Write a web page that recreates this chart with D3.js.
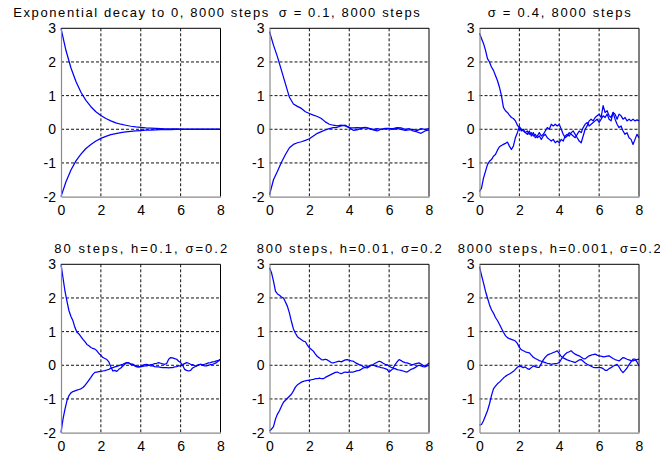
<!DOCTYPE html>
<html>
<head>
<meta charset="utf-8">
<script src="https://cdn.jsdelivr.net/npm/d3@7/dist/d3.min.js"></script>
<style>
  html, body { margin: 0; padding: 0; background: #fff; }
  svg { display: block; }
  text { font-family: "Liberation Sans", Arial, sans-serif; fill: #000; }
</style>
</head>
<body>
<svg id="chart" width="660" height="455"></svg>
<script>
// ---------- data ----------
const titles = [
  "Exponential decay to 0, 8000 steps",
  "\u03c3 = 0.1, 8000 steps",
  "\u03c3 = 0.4, 8000 steps",
  "80 steps, h=0.1, \u03c3=0.2",
  "800 steps, h=0.01, \u03c3=0.2",
  "8000 steps, h=0.001, \u03c3=0.2"
];
const xTicks = [0, 2, 4, 6, 8];
const yTicks = [-2, -1, 0, 1, 2, 3];
const xGrid = [2, 4, 6];
const yGrid = [-1, 0, 1, 2];

// sample spacing in t for each panel's value lists
const tSteps = [0.25, 0.2, 0.1, 0.1, 0.1, 0.1];

const upper1 = [3.00,2.34,1.82,1.42,1.10,0.86,0.67,0.52,0.41,0.32,0.25,0.19,0.15,0.12,0.09,0.07,0.055,0.04,0.033,0.025,0.02,0.015,0.012,0.01,0.007,0.006,0.005,0.004,0.003,0.002,0.002,0.001,0.001];
const lower1 = [-2.00,-1.56,-1.21,-0.94,-0.74,-0.57,-0.45,-0.35,-0.27,-0.21,-0.16,-0.13,-0.10,-0.08,-0.06,-0.05,-0.037,-0.028,-0.022,-0.017,-0.013,-0.01,-0.008,-0.006,-0.005,-0.004,-0.003,-0.002,-0.002,-0.001,-0.001,-0.001,0];

const upper2 = [2.9,2.5,2.15,1.75,1.35,0.95,0.75,0.68,0.62,0.52,0.47,0.42,0.38,0.32,0.22,0.15,0.12,0.10,0.12,0.10,0.05,0.04,0.05,0.04,0.06,0.03,0.0,0.02,0.0,0.03,0.02,0.02,0.05,0.04,0.0,0.02,-0.05,-0.08,-0.12,-0.05,-0.02];
const lower2 = [-1.95,-1.5,-1.25,-0.98,-0.75,-0.55,-0.45,-0.4,-0.37,-0.33,-0.28,-0.2,-0.12,-0.07,-0.02,0.02,0.05,0.06,0.1,0.12,0.05,-0.03,-0.02,0.03,0.05,0.02,-0.02,-0.05,0.0,0.02,0.03,0.0,0.03,0.0,-0.03,-0.02,0.0,-0.04,0.02,0.0,0.02];

const upper3 = [2.85,2.7,2.55,2.35,2.1,2.0,1.85,1.75,1.6,1.45,1.25,1.0,0.65,0.55,0.5,0.42,0.35,0.32,0.25,0.12,0.05,-0.05,0.0,-0.1,-0.05,-0.15,-0.1,-0.2,-0.15,-0.25,-0.2,-0.3,-0.2,-0.15,-0.25,-0.3,-0.35,-0.3,-0.4,-0.35,-0.4,-0.3,-0.35,-0.2,-0.15,-0.2,-0.1,-0.05,-0.15,-0.25,-0.35,-0.4,-0.2,0.0,0.1,0.25,0.3,0.25,0.35,0.4,0.45,0.35,0.7,0.5,0.55,0.4,0.35,0.5,0.45,0.3,0.45,0.4,0.3,0.35,0.25,0.3,0.25,0.3,0.25,0.28,0.25];
const lower3 = [-1.85,-1.75,-1.45,-1.25,-1.05,-0.95,-0.9,-0.8,-0.75,-0.62,-0.52,-0.48,-0.45,-0.42,-0.38,-0.5,-0.6,-0.5,-0.25,-0.1,0.08,0.0,-0.05,-0.1,-0.15,-0.05,-0.2,-0.1,-0.25,-0.2,-0.1,-0.2,-0.15,-0.05,0.05,0.0,0.15,0.1,0.15,0.1,0.15,0.0,-0.15,-0.25,-0.2,-0.1,-0.15,-0.2,-0.25,-0.15,-0.05,-0.1,0.05,0.15,0.2,0.1,0.15,0.2,0.25,0.3,0.2,0.3,0.4,0.35,0.45,0.3,0.25,0.5,0.3,0.15,0.05,0.1,-0.05,-0.15,-0.1,-0.25,-0.3,-0.45,-0.3,-0.15,-0.25];

const upper4 = [3.0,2.6,2.2,1.9,1.62,1.45,1.32,1.12,0.98,0.93,0.85,0.77,0.7,0.62,0.58,0.53,0.5,0.48,0.43,0.35,0.3,0.23,0.2,0.17,0.1,-0.05,-0.17,-0.15,-0.18,-0.12,-0.08,-0.02,0.03,0.08,0.07,0.02,0.03,-0.02,-0.05,-0.05,-0.04,-0.03,-0.02,-0.02,0.0,0.02,0.03,0.05,0.06,0.08,0.06,0.04,0.03,0.05,0.18,0.23,0.22,0.2,0.18,0.12,0.08,0.0,-0.12,-0.15,-0.17,-0.15,-0.08,-0.05,-0.02,0.02,0.03,0.0,-0.02,-0.02,0.0,0.02,0.03,0.05,0.08,0.13,0.18];
const lower4 = [-2.0,-1.6,-1.3,-1.05,-0.9,-0.82,-0.78,-0.76,-0.74,-0.72,-0.7,-0.66,-0.6,-0.52,-0.44,-0.36,-0.27,-0.21,-0.2,-0.19,-0.18,-0.17,-0.16,-0.14,-0.12,-0.09,-0.07,-0.05,-0.03,-0.01,0.01,0.03,0.06,0.08,0.07,0.04,0.03,0.0,-0.03,-0.05,-0.03,0.0,0.02,0.03,0.0,-0.02,-0.02,-0.04,-0.05,-0.05,-0.06,-0.07,-0.07,-0.07,-0.08,-0.07,-0.07,-0.05,-0.04,-0.02,-0.02,0.02,0.05,0.08,0.06,0.03,0.02,-0.01,-0.02,0.0,0.03,0.02,0.03,0.05,0.07,0.08,0.1,0.11,0.13,0.15,0.18];

const upper5 = [2.9,2.75,2.5,2.2,2.12,2.08,2.03,2.0,1.88,1.75,1.55,1.3,1.08,0.95,0.85,0.8,0.76,0.72,0.7,0.6,0.52,0.47,0.42,0.33,0.26,0.22,0.17,0.16,0.18,0.16,0.12,0.08,0.07,0.09,0.11,0.12,0.1,0.13,0.16,0.17,0.15,0.13,0.12,0.08,0.05,0.02,0.0,-0.04,-0.07,-0.08,-0.04,0.0,0.02,0.06,0.09,0.12,0.1,0.06,0.03,0.02,-0.03,-0.06,-0.08,0.02,0.1,0.17,0.14,0.1,0.08,0.07,0.05,0.03,0.02,0.04,0.06,0.07,0.04,0.0,-0.03,0.02,0.07];
const lower5 = [-1.95,-1.9,-1.82,-1.6,-1.45,-1.35,-1.22,-1.1,-1.04,-0.98,-0.92,-0.86,-0.76,-0.65,-0.58,-0.54,-0.5,-0.48,-0.46,-0.45,-0.45,-0.43,-0.42,-0.4,-0.4,-0.38,-0.4,-0.4,-0.36,-0.33,-0.3,-0.27,-0.24,-0.21,-0.2,-0.23,-0.25,-0.22,-0.2,-0.21,-0.2,-0.2,-0.2,-0.18,-0.16,-0.15,-0.12,-0.08,-0.06,-0.04,-0.02,0.0,0.0,-0.02,-0.04,-0.05,-0.07,-0.08,-0.1,-0.12,-0.2,-0.15,-0.1,-0.1,-0.13,-0.14,-0.15,-0.17,-0.19,-0.2,-0.16,-0.12,-0.1,-0.07,-0.03,0.0,-0.02,-0.04,-0.05,-0.02,0.0];

const upper6 = [2.93,2.68,2.45,2.2,2.0,1.8,1.65,1.55,1.42,1.33,1.22,1.1,0.98,0.88,0.82,0.79,0.77,0.75,0.72,0.65,0.53,0.46,0.43,0.4,0.38,0.37,0.3,0.24,0.2,0.17,0.14,0.12,0.1,0.08,0.06,0.05,0.03,0.04,0.05,0.06,0.08,0.18,0.26,0.33,0.38,0.4,0.43,0.37,0.33,0.3,0.28,0.24,0.2,0.19,0.24,0.28,0.3,0.32,0.33,0.3,0.28,0.27,0.25,0.26,0.27,0.28,0.24,0.2,0.17,0.15,0.13,0.18,0.23,0.21,0.18,0.16,0.14,0.13,0.15,0.17,0.18];
const lower6 = [-1.78,-1.76,-1.65,-1.5,-1.35,-1.15,-0.9,-0.7,-0.62,-0.55,-0.5,-0.44,-0.38,-0.33,-0.29,-0.26,-0.22,-0.18,-0.12,-0.06,-0.02,-0.04,-0.07,-0.05,-0.1,-0.12,-0.07,-0.02,-0.04,-0.06,-0.06,0.05,0.16,0.24,0.3,0.33,0.35,0.38,0.4,0.43,0.35,0.26,0.22,0.19,0.16,0.14,0.12,0.1,0.08,0.12,0.16,0.17,0.12,0.07,0.03,0.0,-0.03,-0.06,-0.07,-0.07,-0.07,-0.07,-0.1,-0.15,-0.15,-0.1,-0.07,-0.03,0.0,0.03,-0.05,-0.15,-0.22,-0.15,-0.08,0.02,0.1,0.18,0.18,0.1,-0.02];

const panelSeries = [
  [upper1, lower1],
  [upper2, lower2],
  [upper3, lower3],
  [upper4, lower4],
  [upper5, lower5],
  [upper6, lower6]
];

// ---------- layout ----------
const colX = [61, 269.5, 479.5];
const rowY = [28.3, 264.3];
const plotW = 159.5;
const plotH = 168.3;
const titleWidths = [255, 141, 143, 173, 185, 203];

const svg = d3.select("#chart");

panelSeries.forEach((series, i) => {
  const col = i % 3, row = Math.floor(i / 3);
  const x0 = colX[col], y0 = rowY[row];
  const x = d3.scaleLinear().domain([0, 8]).range([x0, x0 + plotW]);
  const y = d3.scaleLinear().domain([-2, 3]).range([y0 + plotH, y0]);
  const g = svg.append("g");

  // grid
  g.selectAll(".vg").data(xGrid).enter().append("line")
    .attr("x1", d => x(d)).attr("x2", d => x(d))
    .attr("y1", y(3)).attr("y2", y(-2))
    .attr("stroke", "#111").attr("stroke-width", 1)
    .attr("stroke-dasharray", "3,2");
  g.selectAll(".hg").data(yGrid).enter().append("line")
    .attr("x1", x(0)).attr("x2", x(8))
    .attr("y1", d => y(d)).attr("y2", d => y(d))
    .attr("stroke", "#111").attr("stroke-width", 1)
    .attr("stroke-dasharray", "3,2");

  // curves
  const step = tSteps[i];
  const line = d3.line().x((d, k) => x(k * step)).y(d => y(d));
  series.forEach(s => {
    g.append("path").attr("d", line(s))
      .attr("fill", "none").attr("stroke", "#0000ff")
      .attr("stroke-width", 1.25).attr("stroke-linejoin", "round");
  });

  // box: top/right black, bottom/left grey
  g.append("line").attr("x1", x(0)).attr("x2", x(8)).attr("y1", y(3)).attr("y2", y(3))
    .attr("stroke", "#000").attr("stroke-width", 1);
  g.append("line").attr("x1", x(8)).attr("x2", x(8)).attr("y1", y(3)).attr("y2", y(-2))
    .attr("stroke", "#000").attr("stroke-width", 1);

  // axes via d3
  const fmt = d => String(d);
  const xAxis = d3.axisBottom(x).tickValues(xTicks).tickSize(0).tickPadding(8).tickFormat(fmt);
  const yAxis = d3.axisLeft(y).tickValues(yTicks).tickSize(0).tickPadding(5).tickFormat(fmt);
  const gx = g.append("g").attr("transform", `translate(0,${y(-2)})`).call(xAxis);
  const gy = g.append("g").attr("transform", `translate(${x(0)},0)`).call(yAxis);
  [gx, gy].forEach(a => {
    a.select(".domain").attr("stroke", "#8a8a8a").attr("stroke-width", 1.2);
    a.selectAll("text").style("font-size", "14px")
      .style("font-family", '"Liberation Sans", Arial, sans-serif').attr("fill", "#000");
  });

  // title
  g.append("text")
    .attr("x", x(4)).attr("y", y0 - 11.5)
    .attr("text-anchor", "middle")
    .attr("textLength", titleWidths[i]).attr("lengthAdjust", "spacing")
    .style("font-size", "13px")
    .text(titles[i]);
});
</script>
</body>
</html>
